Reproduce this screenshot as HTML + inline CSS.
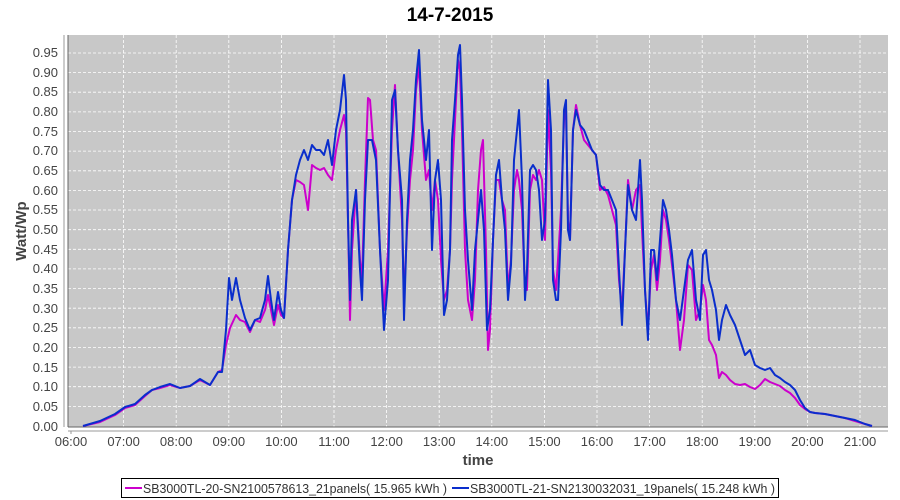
<!DOCTYPE html>
<html><head><meta charset="utf-8"><style>
body{margin:0;background:#fff;}
svg{display:block;font-family:"Liberation Sans",sans-serif;}
</style></head><body>
<svg width="900" height="500" xmlns="http://www.w3.org/2000/svg">
<text x="450" y="21" text-anchor="middle" font-size="19" font-weight="bold" fill="#000">14-7-2015</text>
<rect x="68" y="35" width="820" height="392" fill="#c8c8c8"/>
<g stroke="#fff" stroke-dasharray="3,2" stroke-width="0.8">
<line x1="68" x2="888" y1="406.4" y2="406.4"/><line x1="68" x2="888" y1="386.7" y2="386.7"/>
<line x1="68" x2="888" y1="367.1" y2="367.1"/><line x1="68" x2="888" y1="347.5" y2="347.5"/>
<line x1="68" x2="888" y1="327.8" y2="327.8"/><line x1="68" x2="888" y1="308.2" y2="308.2"/>
<line x1="68" x2="888" y1="288.6" y2="288.6"/><line x1="68" x2="888" y1="268.9" y2="268.9"/>
<line x1="68" x2="888" y1="249.3" y2="249.3"/><line x1="68" x2="888" y1="229.7" y2="229.7"/>
<line x1="68" x2="888" y1="210" y2="210"/><line x1="68" x2="888" y1="190.4" y2="190.4"/>
<line x1="68" x2="888" y1="170.8" y2="170.8"/><line x1="68" x2="888" y1="151.1" y2="151.1"/>
<line x1="68" x2="888" y1="131.5" y2="131.5"/><line x1="68" x2="888" y1="111.9" y2="111.9"/>
<line x1="68" x2="888" y1="92.2" y2="92.2"/><line x1="68" x2="888" y1="72.6" y2="72.6"/>
<line x1="68" x2="888" y1="53" y2="53"/>
<line y1="35" y2="427" x1="123.6" x2="123.6"/><line y1="35" y2="427" x1="176.2" x2="176.2"/>
<line y1="35" y2="427" x1="228.8" x2="228.8"/><line y1="35" y2="427" x1="281.4" x2="281.4"/>
<line y1="35" y2="427" x1="334" x2="334"/><line y1="35" y2="427" x1="386.6" x2="386.6"/>
<line y1="35" y2="427" x1="439.2" x2="439.2"/><line y1="35" y2="427" x1="491.8" x2="491.8"/>
<line y1="35" y2="427" x1="544.4" x2="544.4"/><line y1="35" y2="427" x1="597" x2="597"/>
<line y1="35" y2="427" x1="649.6" x2="649.6"/><line y1="35" y2="427" x1="702.2" x2="702.2"/>
<line y1="35" y2="427" x1="754.8" x2="754.8"/><line y1="35" y2="427" x1="807.4" x2="807.4"/>
<line y1="35" y2="427" x1="860" x2="860"/>
</g>
<line x1="68" y1="35" x2="68" y2="427" stroke="#666" stroke-width="1"/>
<line x1="68" y1="427" x2="888" y2="427" stroke="#666" stroke-width="1"/>
<line x1="64" y1="35" x2="64" y2="427" stroke="#999"/>
<line x1="68" y1="431" x2="888" y2="431" stroke="#999"/>
<g font-size="13" fill="#444" text-anchor="end">
<text x="58" y="431">0.00</text><text x="58" y="411">0.05</text><text x="58" y="391">0.10</text>
<text x="58" y="372">0.15</text><text x="58" y="352">0.20</text><text x="58" y="332">0.25</text>
<text x="58" y="313">0.30</text><text x="58" y="293">0.35</text><text x="58" y="273">0.40</text>
<text x="58" y="254">0.45</text><text x="58" y="234">0.50</text><text x="58" y="214">0.55</text>
<text x="58" y="195">0.60</text><text x="58" y="175">0.65</text><text x="58" y="155">0.70</text>
<text x="58" y="136">0.75</text><text x="58" y="116">0.80</text><text x="58" y="96">0.85</text>
<text x="58" y="77">0.90</text><text x="58" y="57">0.95</text>
</g>
<g font-size="13" fill="#444" text-anchor="middle">
<text x="71" y="446">06:00</text><text x="123.6" y="446">07:00</text><text x="176.2" y="446">08:00</text>
<text x="228.8" y="446">09:00</text><text x="281.4" y="446">10:00</text><text x="334" y="446">11:00</text>
<text x="386.6" y="446">12:00</text><text x="439.2" y="446">13:00</text><text x="491.8" y="446">14:00</text>
<text x="544.4" y="446">15:00</text><text x="597" y="446">16:00</text><text x="649.6" y="446">17:00</text>
<text x="702.2" y="446">18:00</text><text x="754.8" y="446">19:00</text><text x="807.4" y="446">20:00</text>
<text x="860" y="446">21:00</text>
</g>
<g stroke="#999"><line x1="71" x2="71" y1="431" y2="434"/></g>
<text x="478" y="465" text-anchor="middle" font-size="15" font-weight="bold" fill="#444">time</text>
<text transform="translate(26,231) rotate(-90)" text-anchor="middle" font-size="15" font-weight="bold" fill="#444">Watt/Wp</text>
<polyline fill="none" stroke="#cc00cc" stroke-width="2" stroke-linejoin="round" points="83,426 100,422 115,415 125,408 135,405 145,396 152,390 160,388 170,385 180,388 190,386 200,380 210,385 218,372 222,370 226,345 230,328 236,315 240,320 245,322 250,332 255,320 260,322 265,310 268,295 271,310 274,325 278,305 281,315 284,318 288,250 292,200 296,180 300,182 304,185 308,210 312,165 316,168 320,170 324,168 328,175 332,180 336,150 340,130 344,115 346,130 348,220 350,320 352,250 356,190 360,260 362,280 365,180 368,98 370,100 373,140 376,150 380,250 384,310 388,250 392,130 395,85 398,150 402,220 404,300 407,230 410,180 413,150 416,90 419,65 422,130 426,180 429,170 432,210 435,180 438,200 441,260 444,300 447,290 450,250 452,180 455,120 458,60 460,70 462,130 465,250 468,300 472,320 475,280 478,190 481,150 483,140 486,250 488,350 490,330 493,240 496,180 499,180 502,200 505,210 508,290 511,260 514,190 517,170 519,180 522,210 525,290 527,290 530,190 533,175 536,180 539,170 542,180 545,240 548,110 551,170 553,270 556,290 558,260 561,210 564,120 566,110 568,220 570,240 573,130 576,105 580,125 584,140 588,145 592,150 596,155 600,190 604,187 608,195 612,210 616,225 619,280 622,310 625,250 628,180 632,210 636,190 640,185 642,230 645,290 648,330 651,270 654,255 657,290 660,260 663,210 666,220 669,240 672,265 676,300 680,350 684,320 688,265 692,270 696,320 700,310 703,285 706,300 709,340 712,345 716,355 719,378 722,372 726,375 730,380 735,384 740,385 745,384 750,387 755,389 760,385 765,379 770,382 775,384 780,386 785,390 790,393 795,398 800,405 805,409 810,412 815,413 825,414 835,416 845,418 855,421 865,424 872,426"/>
<polyline fill="none" stroke="#0a2ecc" stroke-width="2" stroke-linejoin="round" points="83,426 100,421 115,414 125,407 135,404 145,395 152,390 160,387 170,384 180,388 190,386 200,379 210,385 218,372 222,372 226,330 229,278 232,300 236,278 240,300 245,318 250,330 255,320 260,318 265,300 268,276 271,300 274,320 278,292 281,310 284,318 288,250 292,200 296,175 300,160 304,150 308,160 312,145 316,150 320,150 324,155 328,140 332,165 336,130 340,110 344,75 346,100 348,220 350,300 352,220 356,190 360,270 362,300 365,200 368,140 372,140 376,160 380,250 384,330 388,280 392,100 395,90 398,150 402,200 404,320 407,220 410,160 413,130 416,80 419,50 422,120 426,160 429,130 432,250 435,180 438,160 441,200 444,315 447,300 450,250 452,140 455,100 458,55 460,45 462,100 465,210 468,260 472,310 475,250 478,220 481,190 484,230 487,330 490,310 493,240 496,175 499,160 502,200 505,230 508,300 511,265 514,160 517,130 519,110 522,180 525,300 527,270 530,170 533,165 536,170 539,190 542,240 545,220 548,80 551,130 553,280 556,300 558,300 561,230 564,110 566,100 568,230 570,240 573,130 576,110 580,125 584,130 588,140 592,150 596,155 600,185 604,190 608,190 612,200 616,210 619,270 622,325 625,250 628,185 632,210 636,220 640,160 642,200 645,290 648,340 651,250 654,250 657,280 660,240 663,200 666,210 669,230 672,255 676,300 680,320 684,290 688,260 692,250 696,300 700,320 703,255 706,250 709,280 712,290 716,310 719,340 722,320 726,305 730,315 735,325 740,340 745,355 750,350 755,365 760,368 765,370 770,368 775,375 780,378 785,382 790,385 795,390 800,400 805,408 810,412 815,413 825,414 835,416 845,418 855,420 865,424 872,426"/>
<rect x="121.5" y="478.5" width="657" height="19" fill="#fff" stroke="#000"/>
<line x1="125" x2="142" y1="488" y2="488" stroke="#cc00cc" stroke-width="2"/>
<text x="143" y="493" font-size="13" fill="#333" textLength="304" lengthAdjust="spacingAndGlyphs">SB3000TL-20-SN2100578613_21panels( 15.965 kWh )</text>
<line x1="452" x2="469" y1="488" y2="488" stroke="#0a2ecc" stroke-width="2"/>
<text x="470" y="493" font-size="13" fill="#333" textLength="305" lengthAdjust="spacingAndGlyphs">SB3000TL-21-SN2130032031_19panels( 15.248 kWh )</text>
</svg>
</body></html>
